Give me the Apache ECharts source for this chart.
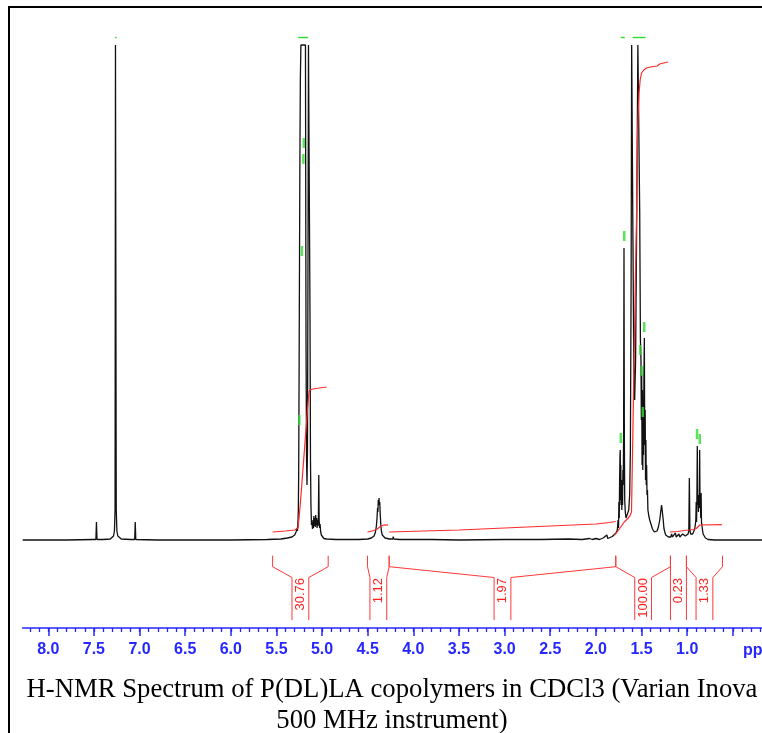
<!DOCTYPE html>
<html><head><meta charset="utf-8">
<script src="https://cdn.jsdelivr.net/npm/echarts@6/dist/echarts.min.js"></script>
<style>html,body{margin:0;padding:0;background:#fff}#c{width:762px;height:733px}</style>
</head><body><div id="c"></div>
<script>
// ---- spectrum (ppm, intensity); tall peaks are clipped at 495 ----
const specSolvent = [
 [8.28,0],[7.80,0],[7.50,0.5],[7.478,0.5],[7.472,18],[7.466,0.5],[7.40,0.5],[7.32,1],[7.30,2],
 [7.285,4],[7.275,9],[7.268,30],[7.2635,495],[7.2595,495],[7.255,30],[7.248,9],[7.238,4],[7.22,2],
 [7.20,1],[7.10,0.5],[7.053,0.5],[7.047,18],[7.041,0.5],[6.80,0],[6.00,0],[5.60,0.5],[5.45,1],[5.38,2]
];
const specMethine = [
 [5.33,3],[5.30,5],[5.285,8],[5.275,12],[5.27,9],[5.265,16],[5.26,30],[5.256,70],[5.252,160],
 [5.248,260],[5.243,380],[5.238,460],[5.232,495],[5.182,495],[5.176,200],[5.170,80],[5.165,55],
 [5.160,90],[5.155,250],[5.149,495],[5.138,495],[5.132,220],[5.127,80],[5.122,35],[5.116,15],
 [5.11,18],[5.105,11],[5.10,20],[5.095,12],[5.09,24],[5.085,14],[5.08,22],[5.075,13],[5.07,25],
 [5.065,15],[5.06,22],[5.055,12],[5.05,20],[5.045,14],[5.04,25],[5.036,65],[5.032,20],[5.027,12],
 [5.022,16],[5.015,8],[5.008,5],[4.998,3],[4.98,1.5],[4.95,1],[4.85,0.5],[4.60,0.5],[4.50,1],
 [4.46,2],[4.43,4],[4.415,8],[4.405,14],[4.398,22],[4.392,32],[4.388,28],[4.384,40],[4.38,36],
 [4.376,42],[4.372,35],[4.368,38],[4.363,26],[4.357,16],[4.35,9],[4.34,5],[4.33,3],[4.31,2],
 [4.26,1],[4.225,1],[4.22,3.5],[4.215,1],[4.15,0.5],[3.80,0.5],[3.50,0],[3.00,0.5],[2.60,0.5],
 [2.30,1],[2.15,0.5],[2.07,1.5],[2.04,0.5],[2.00,1.5],[1.96,0.5],[1.92,2],[1.90,1],[1.88,5],
 [1.87,1.5],[1.85,3],[1.82,3.5],[1.80,5]
];
const specMethyl = [
 [1.78,7],[1.765,10],[1.757,20],[1.752,12],[1.748,38],[1.744,22],[1.740,60],[1.736,85],[1.733,90],
 [1.730,40],[1.727,75],[1.724,35],[1.720,60],[1.716,30],[1.712,55],[1.708,35],[1.704,70],[1.700,55],
 [1.696,110],[1.692,292],[1.688,100],[1.684,40],[1.678,28],[1.670,22],[1.660,20],[1.650,24],
 [1.640,30],[1.630,45],[1.622,90],[1.614,260],[1.608,495],[1.600,495],[1.594,300],[1.585,180],
 [1.575,140],[1.565,180],[1.552,330],[1.540,495],[1.528,495],[1.520,330],[1.512,200],[1.506,180],
 [1.502,120],[1.498,165],[1.494,75],[1.490,150],[1.486,70],[1.482,140],[1.478,85],[1.474,160],
 [1.469,202],[1.465,95],[1.460,130],[1.456,60],[1.452,100],[1.448,55],[1.444,75],[1.440,45],
 [1.435,50],[1.43,30],[1.42,24],[1.41,20],[1.40,18],[1.39,14],[1.38,11],[1.37,9],[1.36,8],
 [1.345,7],[1.33,9],[1.315,13],[1.30,20],[1.29,28],[1.28,35],[1.275,37],[1.27,33],[1.262,20],
 [1.255,12],[1.245,8],[1.235,5],[1.22,4],[1.205,3],[1.19,5],[1.18,3],[1.17,6],[1.16,3],[1.15,5],
 [1.14,4],[1.13,7],[1.12,3],[1.11,5],[1.10,4],[1.09,6],[1.08,3],[1.07,5],[1.06,4],[1.05,6],
 [1.04,4],[1.03,5],[1.02,4],[1.01,6],[1.00,5],[0.99,6],[0.982,9],[0.976,62],[0.970,10],[0.962,6],
 [0.952,5],[0.94,6],[0.93,8],[0.92,10],[0.912,14],[0.905,20],[0.901,38],[0.897,18],[0.893,42],
 [0.889,94],[0.885,35],[0.880,45],[0.876,28],[0.872,42],[0.867,32],[0.863,90],[0.859,35],
 [0.855,45],[0.851,22],[0.847,47],[0.843,18],[0.838,20],[0.832,10],[0.825,6],[0.815,4],[0.80,2],
 [0.79,1],[0.77,0.5],[0.70,0],[0.50,0],[0.18,0]
];

// ---- integral curves (ppm, height) ----
const integralA = [[5.542,8],[5.40,9],[5.30,10],[5.263,12],[5.25,24],[5.23,46],[5.21,70],[5.19,94],
 [5.17,118],[5.155,136],[5.145,146],[5.135,150],[5.10,151],[4.95,153]];
const integralB = [[4.502,8],[4.45,9],[4.42,10],[4.395,11],[4.375,12.5],[4.355,14],[4.33,14.8],[4.278,15.2]];
const integralC = [[4.265,8],[3.5,10],[3.0,12],[2.5,14],[2.0,16],[1.85,17.5],[1.782,18.5]];
const integralD = [[1.795,5],[1.76,9],[1.72,14],[1.69,18],[1.655,21],[1.628,24],[1.61,28],[1.596,100],
 [1.582,180],[1.567,260],[1.555,320],[1.544,405],[1.535,430],[1.527,447],[1.515,460],[1.50,467],
 [1.475,470],[1.446,472],[1.40,473],[1.33,474],[1.30,476],[1.26,477],[1.209,478]];
const integralE = [[1.19,8],[1.10,8.5],[1.03,9.5],[0.975,10]];
const integralF = [[0.972,10],[0.93,10.5],[0.90,11.5],[0.88,13.5],[0.86,15],[0.84,15.2],[0.62,15.3]];

// ---- integration regions and values ----
const integRegions = [[5.542,4.933],[4.502,4.265],[4.265,1.782],[1.782,1.183],[1.183,1.008],[1.008,0.613]];
const integLabels = ['30.76','1.12','1.97','100.00','0.23','1.33'];

// ---- peak-pick markers ----
const peakMarks = [[5.249,120],[5.221,289],[5.205,381],[5.20,397],[1.727,102],[1.689,304],[1.470,213],
 [1.514,190],[1.497,169],[1.486,128],[0.892,106],[0.862,101]];
const clipMarks = [[7.268,7.256],[5.262,5.153],[1.727,1.683],[1.597,1.455]];

// ---- axis ticks ----
const majorTicks = [8.0,7.5,7.0,6.5,6.0,5.5,5.0,4.5,4.0,3.5,3.0,2.5,2.0,1.5,1.0,0.5];
const tickLabels = [8.0,7.5,7.0,6.5,6.0,5.5,5.0,4.5,4.0,3.5,3.0,2.5,2.0,1.5,1.0];
const minorTicks = [8.2,8.1,8.0,7.9,7.8,7.7,7.6,7.5,7.4,7.3,7.2,7.1,7.0,6.9,6.8,6.7,6.6,6.5,6.4,6.3,
 6.2,6.1,6.0,5.9,5.8,5.7,5.6,5.5,5.4,5.3,5.2,5.1,5.0,4.9,4.8,4.7,4.6,4.5,4.4,4.3,4.2,4.1,4.0,3.9,
 3.8,3.7,3.6,3.5,3.4,3.3,3.2,3.1,3.0,2.9,2.8,2.7,2.6,2.5,2.4,2.3,2.2,2.1,2.0,1.9,1.8,1.7,1.6,1.5,
 1.4,1.3,1.2,1.1,1.0,0.9,0.8,0.7,0.6,0.5,0.4,0.3,0.2];

const BLUE = '#2626ff';
const RED = '#ff2a2a';
const GREEN = '#2fdc2f';

const chart = echarts.init(document.getElementById('c'), null, {renderer:'canvas'});
const xBase = {type:'value', inverse:true, min:0.18, max:8.28, position:'bottom', offset:0, gridIndex:0, splitLine:{show:false}};
const integrals = [integralA, integralB, integralC, integralD, integralE, integralF];

chart.setOption({
 animation:false,
 backgroundColor:'#fff',
 grid:{left:22.7, right:0, top:37, bottom:105, containLabel:false, outerBoundsMode:'none'},
 xAxis:[
  Object.assign({}, xBase, {
   axisLine:{show:true, onZero:false, lineStyle:{color:BLUE, width:1.6}},
   axisTick:{show:true, customValues:majorTicks, length:8, lineStyle:{color:BLUE, width:1.5}},
   axisLabel:{show:true, customValues:tickLabels, formatter:v=>Number(v).toFixed(1), color:BLUE,
     fontWeight:'bold', fontSize:16, fontFamily:'"Liberation Sans", Arial, sans-serif', margin:14}
  }),
  Object.assign({}, xBase, {
   axisLine:{show:false, onZero:false},
   axisTick:{show:true, customValues:minorTicks, length:4, lineStyle:{color:BLUE, width:1.3}},
   axisLabel:{show:false}
  })
 ],
 yAxis:{type:'value', min:-88, max:503, show:false, splitLine:{show:false}},
 series:[
  {type:'line', name:'spectrum', data:[...specSolvent, ...specMethine, ...specMethyl], showSymbol:false,
   symbol:'none', lineStyle:{color:'#111', width:1.3}, z:3, silent:true},
  ...integrals.map(d=>({type:'line', data:d, showSymbol:false, symbol:'none',
   lineStyle:{color:RED, width:1.2}, z:4, silent:true})),
  {type:'custom', coordinateSystem:'cartesian2d', z:5, silent:true,
   data:integRegions.map(r=>[r[0], r[1]]),
   encode:{x:[0,1]},
   renderItem:function(params, api){
     const s=api.value(0), e=api.value(1);
     const mid=(s+e)/2, hw=Math.min(0.092,(s-e)/2);
     const P=(x,y)=>api.coord([x,y]);
     const left=[P(s,-15.7),P(s,-26.7),P(mid+hw,-37.5),P(mid+hw,-80)];
     const right=[P(e,-15.7),P(e,-26.7),P(mid-hw,-37.5),P(mid-hw,-80)];
     const t=P(mid,-38);
     const ls={stroke:'#ff3838', lineWidth:1, fill:null};
     return {type:'group', children:[
       {type:'polyline', shape:{points:left}, style:ls},
       {type:'polyline', shape:{points:right}, style:ls},
       {type:'text', x:t[0], y:t[1], rotation:Math.PI/2,
        style:{text:integLabels[params.dataIndex], fill:'#ff2020',
          font:'13px "Liberation Sans", Arial, sans-serif', align:'right', textAlign:'right',
          verticalAlign:'middle', textVerticalAlign:'middle'}}
     ]};
   }},
  {type:'scatter', data:peakMarks, symbol:'rect', symbolSize:[2.5,10], itemStyle:{color:GREEN}, z:6, silent:true},
  {type:'custom', coordinateSystem:'cartesian2d', z:6, silent:true,
   data:clipMarks.map(r=>[r[0], r[1]]), encode:{x:[0,1]},
   renderItem:function(params, api){
     const a=api.coord([api.value(0),502.5]), b=api.coord([api.value(1),502.5]);
     return {type:'rect', shape:{x:a[0], y:a[1]-0.7, width:Math.max(1.5,b[0]-a[0]), height:1.4}, style:{fill:GREEN}};
   }}
 ],
 graphic:[
  {type:'rect', shape:{x:8, y:6, width:760, height:2}, style:{fill:'#000'}, silent:true},
  {type:'rect', shape:{x:8, y:6, width:2, height:730}, style:{fill:'#000'}, silent:true},
  {type:'text', x:743, y:650.5, style:{text:'ppm', fill:BLUE, font:'bold 16px "Liberation Sans", Arial, sans-serif',
    align:'left', textAlign:'left', verticalAlign:'middle', textVerticalAlign:'middle'}, silent:true},
  {type:'text', x:392, y:690, style:{text:'H-NMR Spectrum of P(DL)LA copolymers in CDCl3 (Varian Inova',
    fill:'#000', font:'26.7px "Liberation Serif", "Times New Roman", serif', align:'center', textAlign:'center',
    verticalAlign:'middle', textVerticalAlign:'middle'}, silent:true},
  {type:'text', x:392, y:720.5, style:{text:'500 MHz instrument)',
    fill:'#000', font:'26.7px "Liberation Serif", "Times New Roman", serif', align:'center', textAlign:'center',
    verticalAlign:'middle', textVerticalAlign:'middle'}, silent:true}
 ]
});
</script></body></html>
